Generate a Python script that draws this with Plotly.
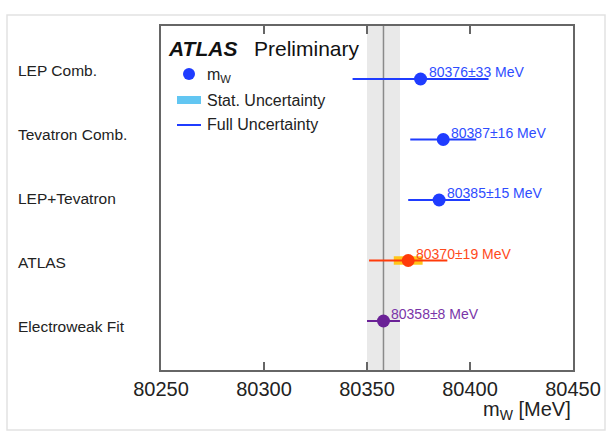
import plotly.graph_objects as go

# ---- data ----
categories = ["LEP Comb.", "Tevatron Comb.", "LEP+Tevatron", "ATLAS", "Electroweak Fit"]
values = [80376, 80387, 80385, 80370, 80358]
full_unc = [33, 16, 15, 19, 8]
stat_unc = [None, None, None, 7, None]
colors = ["#1f3cff", "#1f3cff", "#1f3cff", "#ff3b0a", "#6a2196"]
text_colors = ["#2e4cff", "#2e4cff", "#2e4cff", "#ff4a1c", "#7a35a8"]
stat_colors = [None, None, None, "#ffc61a", None]
x_ticks = [80250, 80300, 80350, 80400, 80450]

FONT = "Liberation Sans, Arial, Helvetica, sans-serif"

n = len(categories)
ypos = [n - i for i in range(n)]  # 5..1

# geometry helpers (pixel -> paper)
L, R, T, B = 161, 573, 26, 370
W, H = 615, 443
def px(x):
    return (x - L) / (R - L)
def py(y):
    return (B - y) / (B - T)

fig = go.Figure()

# EW fit band and central line
ew_i = categories.index("Electroweak Fit")
shapes = [
    dict(type="rect", xref="x", yref="paper", x0=values[ew_i] - full_unc[ew_i],
         x1=values[ew_i] + full_unc[ew_i], y0=0, y1=1, fillcolor="#e9e9e9",
         line=dict(width=0), layer="below"),
    dict(type="line", xref="x", yref="paper", x0=values[ew_i], x1=values[ew_i],
         y0=0, y1=1, line=dict(color="#8a8a8a", width=1.5), layer="below"),
]

# stat uncertainty boxes
for i in range(n):
    if stat_unc[i] is not None:
        fig.add_trace(go.Bar(
            y=[ypos[i]], x=[2 * stat_unc[i]], base=[values[i] - stat_unc[i]],
            orientation="h", width=0.14, marker=dict(color=stat_colors[i], line=dict(width=0)),
            showlegend=False, hoverinfo="skip"))

# points with full uncertainty
for i in range(n):
    fig.add_trace(go.Scatter(
        x=[values[i]], y=[ypos[i]], mode="markers",
        marker=dict(color=colors[i], size=13),
        error_x=dict(type="data", array=[full_unc[i]], symmetric=True,
                     color=colors[i], thickness=2, width=0),
        showlegend=False, hoverinfo="skip"))

annotations = []
# value labels
for i in range(n):
    annotations.append(dict(
        x=values[i], y=ypos[i], xref="x", yref="y",
        text=f"{values[i]}±{full_unc[i]} MeV", showarrow=False,
        xanchor="left", yanchor="middle", xshift=6, yshift=7,
        font=dict(family=FONT, size=14, color=text_colors[i])))

# category labels (left)
label_px_y = [70, 134, 198, 262, 326]
for i in range(n):
    annotations.append(dict(
        x=px(16), y=py(label_px_y[i]), xref="paper", yref="paper",
        text=categories[i], showarrow=False, xanchor="left", yanchor="middle",
        font=dict(family=FONT, size=15.5, color="#222222")))

# ATLAS Preliminary
annotations.append(dict(x=px(166), y=py(48), xref="paper", yref="paper",
                        text="<b><i>ATLAS</i></b>", showarrow=False,
                        xanchor="left", yanchor="middle",
                        font=dict(family=FONT, size=21, color="#111111")))
annotations.append(dict(x=px(252), y=py(48), xref="paper", yref="paper",
                        text="Preliminary", showarrow=False,
                        xanchor="left", yanchor="middle",
                        font=dict(family=FONT, size=21, color="#111111")))

# manual legend
shapes.append(dict(type="circle", xref="paper", yref="paper", xsizemode="pixel",
                   ysizemode="pixel", xanchor=px(189), yanchor=py(74),
                   x0=-6, x1=6, y0=-6, y1=6, fillcolor="#1f3cff", line=dict(width=0)))
shapes.append(dict(type="rect", xref="paper", yref="paper", x0=px(177), x1=px(201),
                   y0=py(104), y1=py(96), fillcolor="#62c6f2", line=dict(width=0)))
shapes.append(dict(type="line", xref="paper", yref="paper", x0=px(177), x1=px(201),
                   y0=py(125), y1=py(125), line=dict(color="#1f3cff", width=2)))
for txt, yy in [("m<sub>W</sub>", 75), ("Stat. Uncertainty", 100), ("Full Uncertainty", 125)]:
    annotations.append(dict(x=px(205), y=py(yy), xref="paper", yref="paper",
                            text=txt, showarrow=False, xanchor="left", yanchor="middle",
                            font=dict(family=FONT, size=16, color="#222222")))

# axis title
annotations.append(dict(x=1.0, y=py(410), xref="paper", yref="paper",
                        text="m<sub>W</sub> [MeV]", showarrow=False,
                        xanchor="right", yanchor="middle",
                        font=dict(family=FONT, size=20, color="#222222")))

# outer frame
shapes.append(dict(type="rect", xref="paper", yref="paper", x0=px(7), x1=px(605),
                   y0=py(430), y1=py(15), line=dict(color="#e2e2e2", width=1.5),
                   fillcolor="rgba(0,0,0,0)", layer="below"))

fig.update_layout(
    width=W, height=H,
    margin=dict(l=L, r=W - R, t=T, b=H - B),
    paper_bgcolor="white", plot_bgcolor="white",
    showlegend=False, barmode="overlay",
    shapes=shapes, annotations=annotations,
    xaxis=dict(range=[80250, 80450], tickvals=x_ticks, ticktext=[str(t) for t in x_ticks],
               ticks="inside", ticklen=8, tickwidth=1.5, tickcolor="#666666",
               showline=True, linecolor="#666666", linewidth=2, mirror="ticks",
               showgrid=False, zeroline=False,
               tickfont=dict(family=FONT, size=20, color="#222222")),
    yaxis=dict(range=[0.19, 5.876], showticklabels=False, ticks="",
               showline=True, linecolor="#666666", linewidth=2, mirror=True,
               showgrid=False, zeroline=False),
)

fig.write_html("out.html")
